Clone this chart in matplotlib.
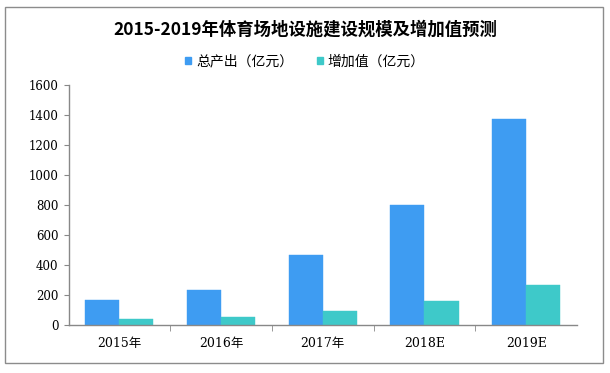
import matplotlib
matplotlib.use("Agg")
import matplotlib.pyplot as plt
from matplotlib.patches import Rectangle, Patch
import numpy as np

plt.rcParams['font.family'] = ['Noto Sans CJK SC', 'DejaVu Sans']

categories = ["2015年", "2016年", "2017年", "2018E", "2019E"]
total_output = [165, 227, 465, 795, 1370]
added_value = [35, 47, 93, 160, 266]
series_names = ["总产出（亿元）", "增加值（亿元）"]
title = "2015-2019年体育场地设施建设规模及增加值预测"

blue = "#3E9CF2"
teal = "#3EC9C9"
tick_family = ['DejaVu Serif', 'Noto Sans CJK SC']

fig = plt.figure(figsize=(6.10, 3.73), dpi=100)
ax = fig.add_axes([68.5/610, 1-324.5/373, (577-68.5)/610, (324.5-84.7)/373])

x = np.arange(len(categories))
w = 0.335
ax.bar(x - w/2, total_output, width=w, color=blue, edgecolor=blue, linewidth=0.3)
ax.bar(x + w/2, added_value, width=w, color=teal, edgecolor=teal, linewidth=0.3)

ax.set_xlim(-0.5, len(categories) - 0.5)
ax.set_ylim(0, 1600)
ax.set_yticks(np.arange(0, 1601, 200))
ax.tick_params(axis='y', labelsize=8.5, length=3.6, color='#888888', pad=3.6)
for lab in ax.get_yticklabels():
    lab.set_family(tick_family)
ax.set_xticks(x)
ax.set_xticklabels(categories, fontsize=9, family=tick_family)
ax.set_xticks(np.arange(0.5, len(categories) - 0.5, 1), minor=True)
ax.tick_params(axis='x', which='major', length=0, pad=9)
ax.tick_params(axis='x', which='minor', length=4, color='#888888')
for s in ['top', 'right']:
    ax.spines[s].set_visible(False)
for s in ['left', 'bottom']:
    ax.spines[s].set_color('#888888')
    ax.spines[s].set_linewidth(1.0)

fig.text(0.5, 1-30/373, title, ha='center', va='center', fontsize=12.5, fontweight='bold')

handles = [Patch(facecolor=blue, edgecolor=blue), Patch(facecolor=teal, edgecolor=teal)]
fig.legend(handles, series_names, loc='center', bbox_to_anchor=(0.5, 1-61.5/373),
           ncol=2, frameon=False, fontsize=10, handlelength=0.45, handleheight=0.45,
           handletextpad=0.35, columnspacing=1.7)

fig.patches.append(Rectangle((5/610, 1-363/373), 598/610, 356/373, transform=fig.transFigure,
                             fill=False, edgecolor='#8c8c8c', linewidth=1.0))

fig.savefig("out.png", dpi=100)
